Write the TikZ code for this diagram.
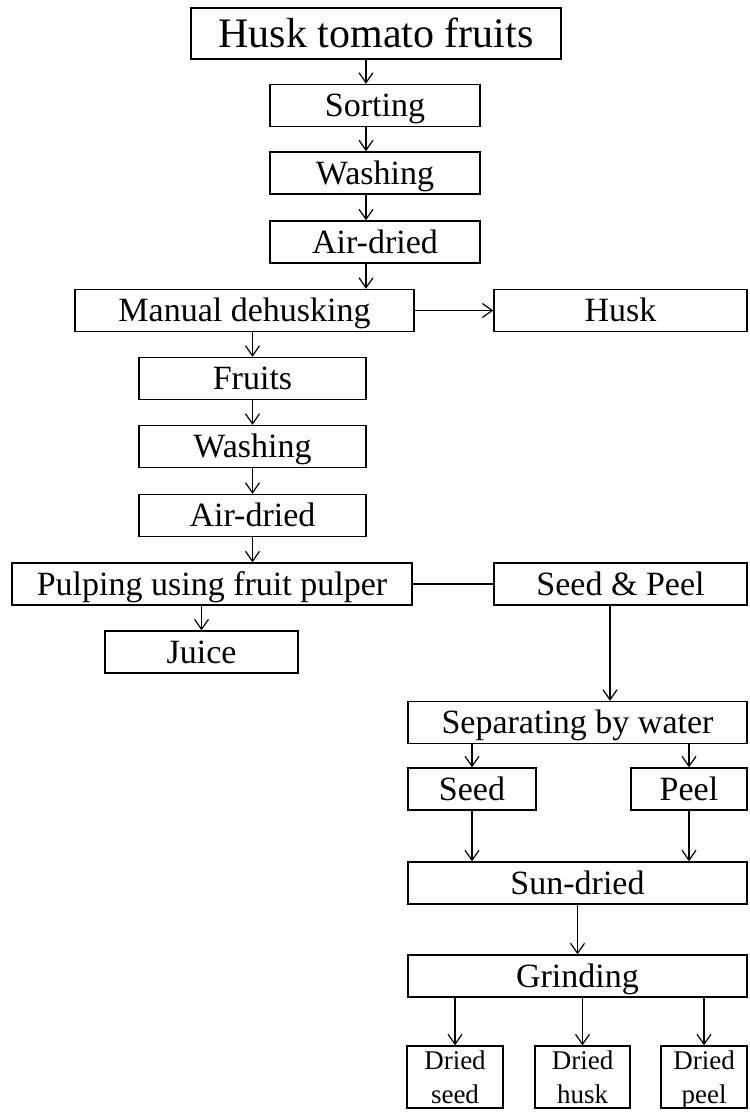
\documentclass[tikz,border=0pt]{standalone}
\usepackage{fontspec}
\setmainfont{Liberation Serif}
\usetikzlibrary{arrows.meta}

\begin{document}
\begin{tikzpicture}[x=0.5pt, y=-0.5pt,
  stage/.style={rectangle, draw=black, line width=0.7pt, inner sep=0pt, minimum height=21pt, text height=11.3pt, text depth=0pt, font=\fontsize{17}{20}\selectfont},
  product/.style={rectangle, draw=black, line width=0.7pt, inner sep=0pt, minimum height=31pt, text depth=0pt, align=center, font=\fontsize{13.5}{17}\selectfont},
  flow/.style={-{Straight Barb[length=5pt, width=7pt]}, line width=0.6pt},
  link/.style={line width=0.6pt}
]
  \useasboundingbox (0,0) rectangle (749,1112);
  \coordinate (colA) at (366,0);
  \coordinate (colB) at (610,0);

  \node[stage, minimum width=185pt, minimum height=25.5pt, text height=14pt, font=\fontsize{21}{24}\selectfont] (raw) at (376,33.5) {Husk tomato fruits};
  \node[stage, minimum width=105pt] (sort) at (375,105.5) {Sorting};
  \node[stage, minimum width=105pt] (wash) at (375,173) {Washing};
  \node[stage, minimum width=105pt] (airdry) at (375,242) {Air-dried};
  \node[stage, minimum width=169.5pt] (dehusk) at (244.5,310.5) {Manual dehusking};
  \node[stage, minimum width=126.5pt] (husk) at (620.5,310.5) {Husk};
  \node[stage, minimum width=113.5pt] (flesh) at (252.5,378.5) {Fruits};
  \node[stage, minimum width=113.5pt] (washtwo) at (252.5,446.5) {Washing};
  \node[stage, minimum width=113.5pt] (airtwo) at (252.5,515.5) {Air-dried};
  \node[stage, minimum width=200pt] (pulping) at (212,584) {Pulping using fruit pulper};
  \node[stage, minimum width=126.5pt] (seedpeel) at (620.5,584) {Seed \& Peel};
  \node[stage, minimum width=96.5pt] (juice) at (201.5,652) {Juice};
  \node[stage, minimum width=169.5pt] (separate) at (577.5,722.5) {Separating by water};
  \node[stage, minimum width=64pt] (seed) at (472,789) {Seed};
  \node[stage, minimum width=58pt] (peel) at (689,789) {Peel};
  \node[stage, minimum width=169.5pt] (sundry) at (577.5,883) {Sun-dried};
  \node[stage, minimum width=169.5pt] (grind) at (577.5,976) {Grinding};
  \node[product, minimum width=48pt] (dseed) at (455,1077) {Dried\\seed};
  \node[product, minimum width=47.5pt] (dhusk) at (582.5,1077) {Dried\\husk};
  \node[product, minimum width=43pt] (dpeel) at (704,1077) {Dried\\peel};

  \draw[flow] (raw.south -| colA) -- (sort.north -| colA);
  \draw[flow] (sort.south -| colA) -- (wash.north -| colA);
  \draw[flow] (wash.south -| colA) -- (airdry.north -| colA);
  \draw[flow] (airdry.south -| colA) -- (dehusk.north -| colA);
  \draw[flow] (dehusk.east) -- (husk.west);
  \draw[flow] (dehusk.south -| flesh) -- (flesh.north);
  \draw[flow] (flesh.south) -- (washtwo.north);
  \draw[flow] (washtwo.south) -- (airtwo.north);
  \draw[flow] (airtwo.south) -- (pulping.north -| airtwo);
  \draw[link] (pulping.east) -- (seedpeel.west);
  \draw[flow] (pulping.south -| juice) -- (juice.north);
  \draw[flow] (seedpeel.south -| colB) -- (separate.north -| colB);
  \draw[flow] (separate.south -| seed) -- (seed.north);
  \draw[flow] (separate.south -| peel) -- (peel.north);
  \draw[flow] (seed.south) -- (sundry.north -| seed);
  \draw[flow] (peel.south) -- (sundry.north -| peel);
  \draw[flow] (sundry.south) -- (grind.north);
  \draw[flow] (grind.south -| dseed) -- (dseed.north);
  \draw[flow] (grind.south -| dhusk) -- (dhusk.north);
  \draw[flow] (grind.south -| dpeel) -- (dpeel.north);
\end{tikzpicture}
\end{document}
